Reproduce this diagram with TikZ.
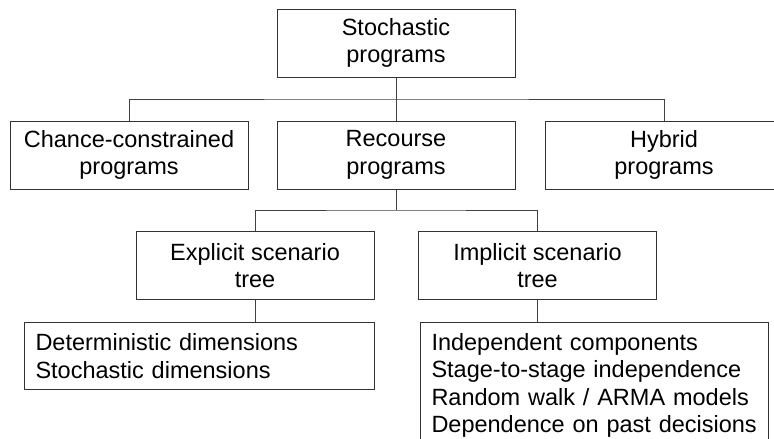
\documentclass[tikz,border=0pt]{standalone}
\usepackage{fontspec}
\setmainfont{Liberation Sans}
\begin{document}
\begin{tikzpicture}[x=1pt,y=-1pt,
  box/.style={draw=black!80, line width=1pt, minimum width=238pt, minimum height=68pt,
    inner sep=0pt, align=center, font=\fontsize{23.5}{27.5}\selectfont},
  listbox/.style={draw=black!80, line width=1pt, anchor=north west, inner xsep=11pt,
    inner ysep=10.8pt, align=left, font=\fontsize{23.5}{27.5}\selectfont},
  link/.style={draw=black!75, line width=1pt}]
  \useasboundingbox (0,0) rectangle (774,439);
  \clip (0,0) rectangle (774,439);

  % top level
  \node[box] (stoch) at (396,43) {Stochastic\\programs};

  % program classes
  \node[box] (chance) at (129,155) {Chance-constrained\\programs};
  \node[box] (recourse) at (396,155) {Recourse\\programs};
  \node[box] (hybrid) at (664,155) {Hybrid\\programs};

  % scenario tree kinds
  \node[box] (explicit) at (255,265.5) {Explicit scenario\\tree};
  \node[box] (implicit) at (537.5,265.5) {Implicit scenario\\tree};

  % properties
  \node[listbox, text width=328pt, minimum height=67pt] (exlist) at (24,322)
    {Deterministic dimensions\\Stochastic dimensions};
  \node[listbox, text width=326pt] (imlist) at (420,322)
    {Independent components\\Stage-to-stage independence\\Random walk / ARMA models\\Dependence on past decisions};

  % connectors
  \coordinate (bus1) at (396,99);
  \draw[link] (stoch.south) -- (recourse.north);
  \draw[link] (chance.north) |- (bus1) -| (hybrid.north);

  \coordinate (bus2) at (396,210);
  \draw[link] (recourse.south) -- (bus2);
  \draw[link] (explicit.north) |- (bus2) -| (implicit.north);

  \draw[link] (explicit.south) -- (explicit.south |- exlist.north);
  \draw[link] (implicit.south) -- (implicit.south |- imlist.north);
\end{tikzpicture}
\end{document}
